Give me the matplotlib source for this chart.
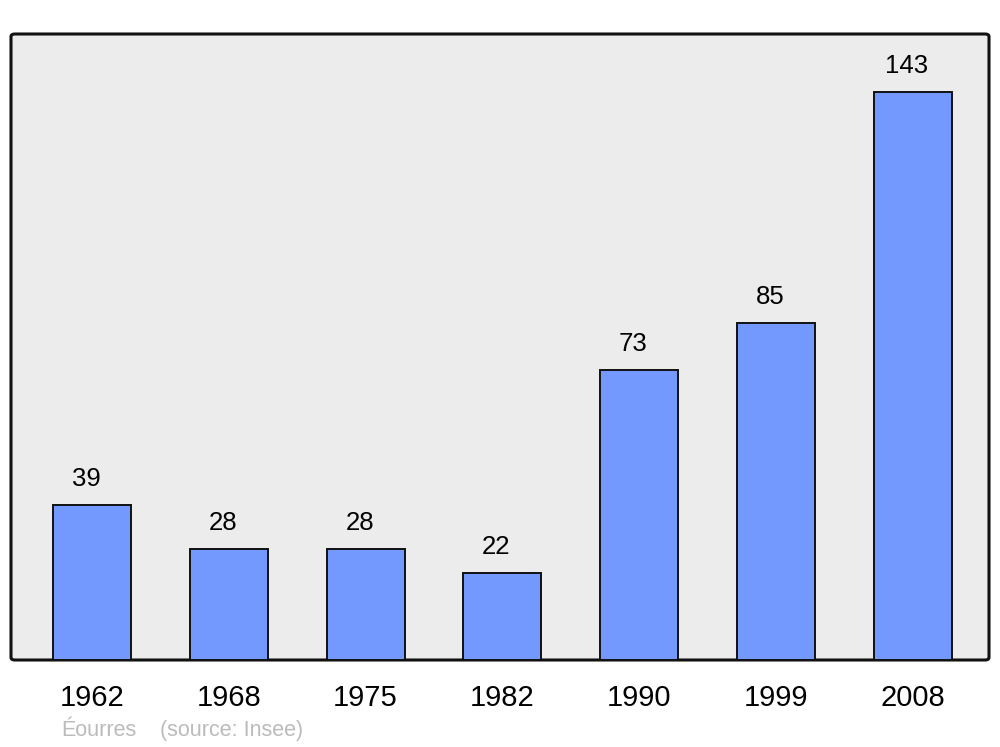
import matplotlib
matplotlib.use("Agg")
import matplotlib.pyplot as plt
from matplotlib.patches import FancyBboxPatch

# ── Données ──
years  = ["1962", "1968", "1975", "1982", "1990", "1999", "2008"]
values = [39, 28, 28, 22, 73, 85, 143]
commune = "Éourres"
source  = "(source: Insee)"

plt.rcParams["font.family"] = ["Liberation Sans", "DejaVu Sans"]

fig = plt.figure(figsize=(10, 7.47), dpi=100)
ax = fig.add_axes([0.011, 87 / 747, 0.978, 626 / 747])

# fond gris aux coins arrondis
ax.set_facecolor("none")
for s in ax.spines.values():
    s.set_visible(False)
frame = FancyBboxPatch((0, 0), 1, 1, boxstyle="round,pad=0,rounding_size=0.004",
                       transform=ax.transAxes, facecolor="#ECECEC", edgecolor="#111111",
                       linewidth=2.2, zorder=0, clip_on=False)
ax.add_patch(frame)

x = list(range(len(years)))
bars = ax.bar(x, values, width=0.57, color="#7399FF", edgecolor="#111111",
              linewidth=1.4, zorder=2)

for xi, v in zip(x, values):
    ax.annotate(str(v), (xi, v), xytext=(-6, 14), textcoords="offset pixels",
                ha="center", va="bottom", fontsize=18.5, color="black")

ax.set_xlim(-0.592, 6.557)
ax.set_ylim(0, 157.7)
ax.set_yticks([])
ax.set_xticks(x)
ax.set_xticklabels(years, fontsize=21)
ax.tick_params(axis="x", length=0, pad=17)

fig.text(0.061, 0.008, commune, fontsize=15.5, color="#BBBBBB", ha="left", va="bottom")
fig.text(0.160, 0.008, source, fontsize=15.5, color="#BBBBBB", ha="left", va="bottom")

fig.savefig("out.png", dpi=100)
